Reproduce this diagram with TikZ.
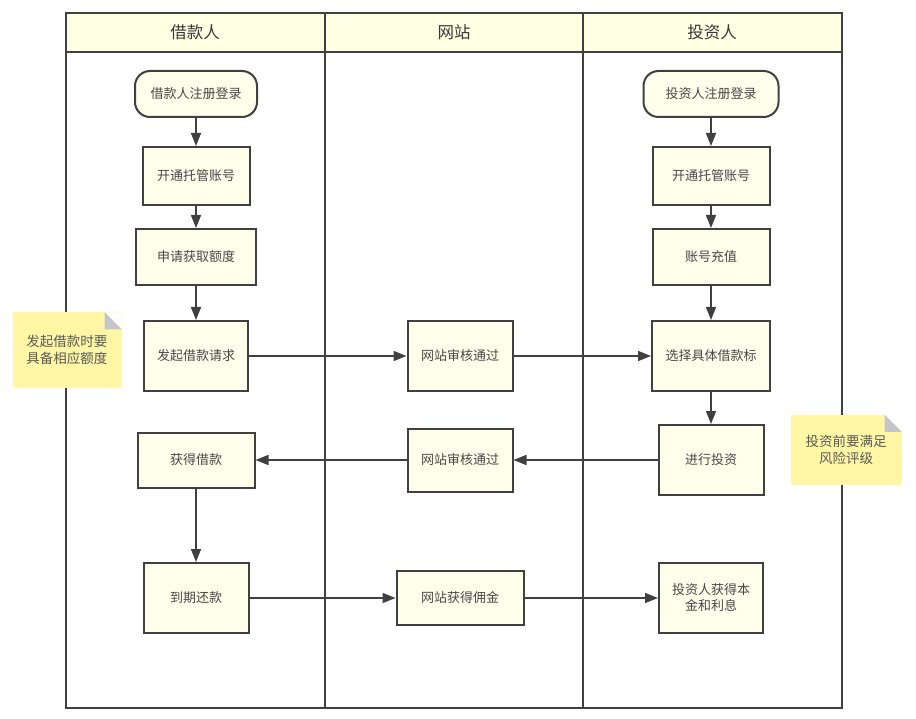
\documentclass[tikz,border=0pt]{standalone}
\usepackage{fontspec}
\setmainfont{Noto Sans CJK SC}
\usetikzlibrary{arrows.meta}
\definecolor{FlowLine}{RGB}{64,64,64}
\definecolor{FlowBox}{RGB}{255,255,236}
\definecolor{FlowHead}{RGB}{255,255,228}
\definecolor{FlowNote}{RGB}{255,247,165}
\definecolor{FlowFold}{RGB}{196,196,204}

\begin{document}
\begin{tikzpicture}[x=1pt,y=-1pt,>={Triangle[length=13pt,width=10pt]},
  box/.style={draw=FlowLine,line width=2pt,fill=FlowBox,text=black!72,
    font=\fontsize{13}{16}\selectfont,align=center,inner sep=0pt},
  startbox/.style={box,rounded corners=15pt},
  lanehead/.style={text=black!78,font=\fontsize{16.5}{19}\selectfont},
  note/.style={fill=FlowNote,text=black!65,font=\fontsize{13.5}{17}\selectfont,
    align=center,inner sep=0pt},
  flow/.style={->,draw=FlowLine,line width=1.6pt}]
\useasboundingbox (0,0) rectangle (916,719);

\fill[FlowHead] (66,13) rectangle (842,52);
\draw[FlowLine,line width=2pt] (66,13) rectangle (842,708);
\draw[FlowLine,line width=2pt] (66,52) -- (842,52);
\foreach \x in {325,583}
  \draw[FlowLine,line width=2pt] (\x,13) -- (\x,708);
\node[lanehead] (hBorrow) at (195,32) {借款人};
\node[lanehead] (hSite) at (454,32) {网站};
\node[lanehead] (hInvest) at (712,32) {投资人};

% borrower lane
\node[startbox,minimum width=122,minimum height=46] (bLogin) at (196,94) {借款人注册登录};
\node[box,minimum width=107,minimum height=58] (bAcct) at (196,176) {开通托管账号};
\node[box,minimum width=120,minimum height=56] (bQuota) at (196,257) {申请获取额度};
\node[box,minimum width=104,minimum height=70] (bApply) at (196,356) {发起借款请求};
\node[box,minimum width=117,minimum height=55] (bGet) at (196,460) {获得借款};
\node[box,minimum width=105,minimum height=70] (bRepay) at (196,598) {到期还款};

% website lane
\node[box,minimum width=105,minimum height=70] (sCheckA) at (460,356) {网站审核通过};
\node[box,minimum width=105,minimum height=63] (sCheckB) at (460,460) {网站审核通过};
\node[box,minimum width=127,minimum height=54] (sFee) at (460,598) {网站获得佣金};

% investor lane
\node[startbox,minimum width=135,minimum height=46] (iLogin) at (711,94) {投资人注册登录};
\node[box,minimum width=117,minimum height=58] (iAcct) at (711,176) {开通托管账号};
\node[box,minimum width=117,minimum height=56] (iCharge) at (711,257) {账号充值};
\node[box,minimum width=118,minimum height=70] (iPick) at (711,356) {选择具体借款标};
\node[box,minimum width=105,minimum height=70] (iInvest) at (711,460) {进行投资};
\node[box,minimum width=104,minimum height=70] (iGain) at (711,598) {投资人获得本\\金和利息};

% notes
\node[note,minimum width=109,minimum height=75] (nBorrow) at (67,350) {发起借款时要\\具备相应额度};
\node[note,minimum width=111,minimum height=70] (nInvest) at (846,450) {投资前要满足\\风险评级};
\foreach \n in {nBorrow,nInvest} {
  \fill[white] ([xshift=-17pt]\n.north east) -- (\n.north east) -- ([yshift=-17pt]\n.north east) -- cycle;
  \fill[FlowFold] ([xshift=-17pt]\n.north east) -- ([xshift=-17pt,yshift=-17pt]\n.north east)
    -- ([yshift=-17pt]\n.north east) -- cycle;
}

\draw[flow] (bLogin) -- (bAcct);
\draw[flow] (bAcct) -- (bQuota);
\draw[flow] (bQuota) -- (bApply);
\draw[flow] (bApply) -- (sCheckA);
\draw[flow] (sCheckA) -- (iPick);
\draw[flow] (iLogin) -- (iAcct);
\draw[flow] (iAcct) -- (iCharge);
\draw[flow] (iCharge) -- (iPick);
\draw[flow] (iPick) -- (iInvest);
\draw[flow] (iInvest) -- (sCheckB);
\draw[flow] (sCheckB) -- (bGet);
\draw[flow] (bGet) -- (bRepay);
\draw[flow] (bRepay) -- (sFee);
\draw[flow] (sFee) -- (iGain);
\end{tikzpicture}
\end{document}
